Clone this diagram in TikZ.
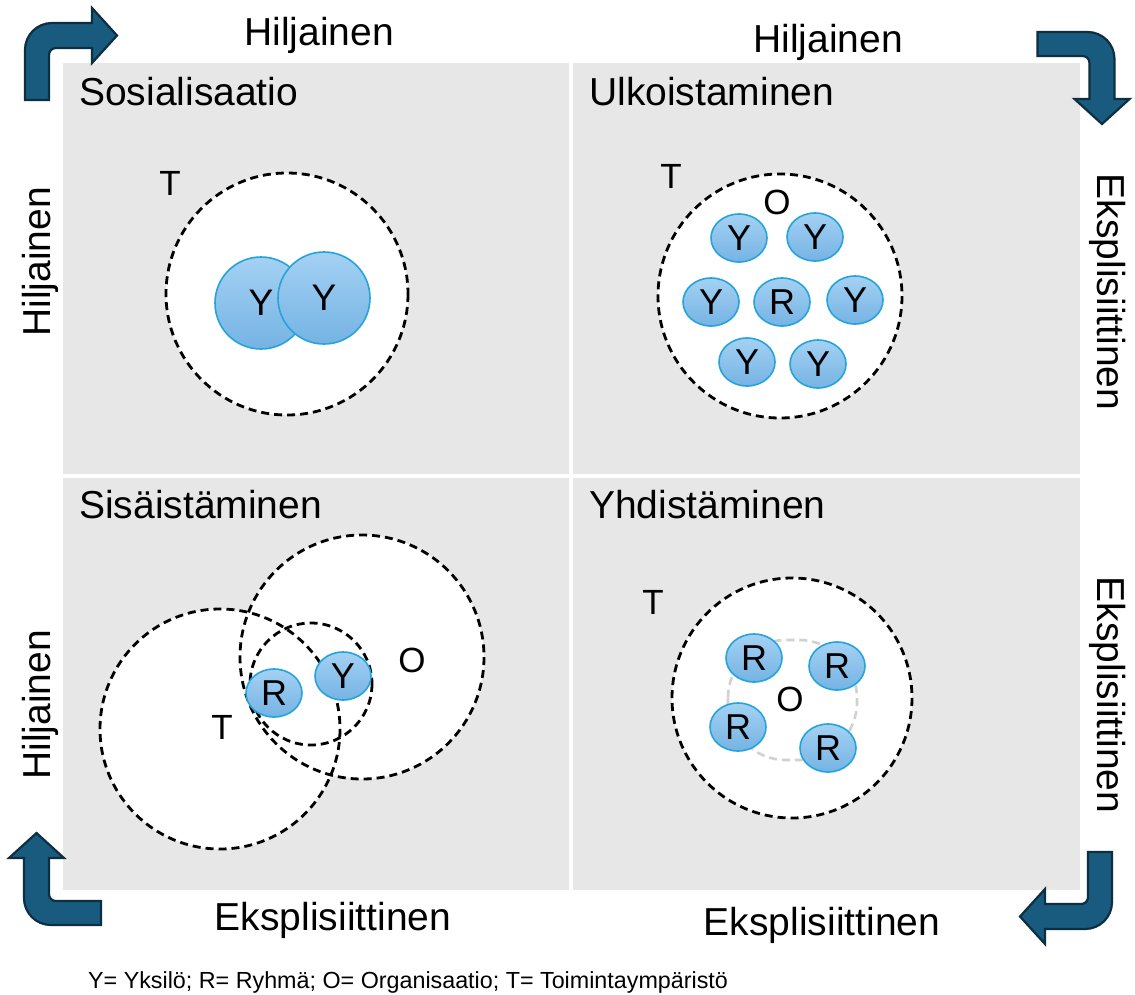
\documentclass[tikz,border=0pt]{standalone}
\usepackage{fontspec}
\setmainfont{Liberation Sans}
\usetikzlibrary{shapes.geometric}
\definecolor{panelgray}{HTML}{E7E7E7}
\definecolor{arrowfill}{HTML}{195B7E}
\definecolor{arrowline}{HTML}{0C2F42}
\definecolor{blobtop}{HTML}{A4D1F3}
\definecolor{blobbot}{HTML}{75B3E4}
\definecolor{blobline}{HTML}{25A4D8}
\begin{document}
\begin{tikzpicture}[x=1pt,y=-1pt,
  big/.style={font=\fontsize{39}{39}\selectfont, inner sep=0pt},
  letter/.style={font=\fontsize{35}{35}\selectfont, inner sep=0pt},
  foot/.style={font=\fontsize{23.3}{23.3}\selectfont, inner sep=0pt},
  env/.style={draw=black, line width=2.8pt, dash pattern=on 8pt off 5pt},
  blob/.style={ellipse, draw=blobline, line width=1.6pt, top color=blobtop, bottom color=blobbot,
     minimum width=56pt, minimum height=48pt, inner sep=0pt, font=\fontsize{36}{36}\selectfont},
  pers/.style={circle, draw=blobline, line width=1.6pt, top color=blobtop, bottom color=blobbot,
     minimum size=92pt, inner sep=0pt, font=\fontsize{37}{37}\selectfont},
  bentarrow/.style={fill=arrowfill, draw=arrowline, line width=2.2pt, line join=miter}
]
\useasboundingbox (0,0) rectangle (1135,994);
\fill[white] (0,0) rectangle (1135,994);

% panel
\fill[panelgray] (63,63) rectangle (1080,890);
\fill[white] (569,63) rectangle (572.5,890);
\fill[white] (63,474) rectangle (1080,477.5);

% corner arrows
\newcommand{\bentshape}{%
  (-46,46) -- (-46,-4) .. controls (-46,-19) and (-34,-31) .. (-19,-31) -- (21,-31) -- (21,-46)
  -- (46,-18.5) -- (21,9) -- (21,-6) -- (-15,-6) .. controls (-19,-6) and (-22,-3) .. (-22,1)
  -- (-22,46) -- cycle}
\begin{scope}[shift={(71,54)}]
  \draw[bentarrow] \bentshape;
\end{scope}
\begin{scope}[shift={(1083.5,78)}, rotate=-90]
  \draw[bentarrow] \bentshape;
\end{scope}
\begin{scope}[shift={(1066,898)}, rotate=-180]
  \draw[bentarrow] \bentshape;
\end{scope}
\begin{scope}[shift={(55,879)}, rotate=90]
  \draw[bentarrow] \bentshape;
\end{scope}

% outside labels
\node[big, anchor=base] (tl) at (319,45) {Hiljainen};
\node[big, anchor=base] (tr) at (828,52) {Hiljainen};
\node[big, rotate=90] (l1) at (40,262) {Hiljainen};
\node[big, rotate=90] (l2) at (40,705) {Hiljainen};
\node[big, rotate=-90] (r1) at (1108,292) {Eksplisiittinen};
\node[big, rotate=-90] (r2) at (1108,695) {Eksplisiittinen};
\node[big, anchor=base] (b1) at (333,930) {Eksplisiittinen};
\node[big, anchor=base] (b2) at (822,935) {Eksplisiittinen};
\node[foot, anchor=base west] (legend) at (88,988) {Y= Yksilö; R= Ryhmä; O= Organisaatio; T= Toimintaympäristö};

% titles
\node[big, anchor=base west] (q1) at (79,105) {Sosialisaatio};
\node[big, anchor=base west] (q2) at (589,105) {Ulkoistaminen};
\node[big, anchor=base west] (q3) at (79,518) {Sisäistäminen};
\node[big, anchor=base west] (q4) at (589,518) {Yhdistäminen};

% Q1 Sosialisaatio
\draw[env, fill=white] (287,294) circle [radius=121];
\node[letter] (t1) at (170,183) {T};
\node[pers] (y1a) at (261,303) {Y};
\node[pers] (y1b) at (324,298) {Y};

% Q2 Ulkoistaminen
\draw[env, fill=white] (780,296) circle [radius=122];
\node[letter] (t2) at (671,176) {T};
\node[letter] (o2) at (777,202) {O};
\node[blob] (y2a) at (739,238) {Y};
\node[blob] (y2b) at (815,237) {Y};
\node[blob] (y2c) at (711,302) {Y};
\node[blob] (r2a) at (782,302) {R};
\node[blob] (y2d) at (855,300) {Y};
\node[blob] (y2e) at (747,362) {Y};
\node[blob] (y2f) at (818,364) {Y};

% Q3 Sisäistäminen
\fill[white] (220,729) circle [radius=120];
\fill[white] (362,657) circle [radius=122];
\draw[env] (220,729) circle [radius=120];
\draw[env] (362,657) circle [radius=122];
\draw[env] (311,684) circle [radius=61];
\node[letter] (t3) at (222,727) {T};
\node[letter] (o3) at (412,660) {O};
\node[blob] (r3) at (274,693) {R};
\node[blob] (y3) at (343,676) {Y};

% Q4 Yhdistäminen
\draw[env, fill=white] (792,698) circle [radius=120];
\draw[black!18, line width=2.6pt, dash pattern=on 8pt off 5pt, rounded corners=58pt] (728,640) rectangle (857,760);
\node[letter] (t4) at (653,602) {T};
\node[letter] (o4) at (790,699) {O};
\node[blob] (r4a) at (754,658) {R};
\node[blob] (r4b) at (837,666) {R};
\node[blob] (r4c) at (738,727) {R};
\node[blob] (r4d) at (828,748) {R};
\end{tikzpicture}
\end{document}
